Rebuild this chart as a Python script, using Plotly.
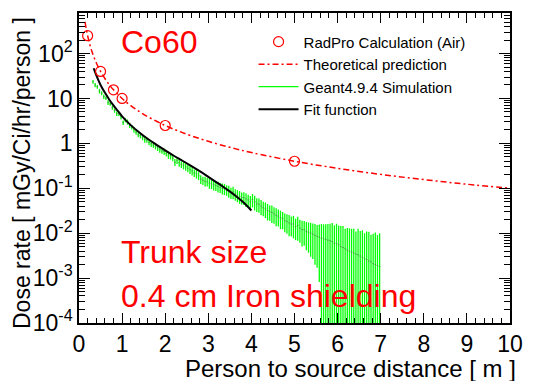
import numpy as np
import plotly.graph_objects as go

# --- RadPro calculation (air) ---
radpro_dist = [0.2, 0.5, 0.8, 1.0, 2.0, 5.0]
radpro_rate = [250, 40, 15.6, 10, 2.5, 0.4]

# --- Theoretical prediction ---
theory_dist = [0.14, 0.17, 0.2, 0.25, 0.3, 0.35, 0.4, 0.5, 0.6, 0.7, 0.8, 1.0,
               1.2, 1.5, 2.0, 2.5, 3.0, 3.5, 4.0, 5.0, 6.0, 7.0, 8.0, 9.0, 10.0]
theory_rate = [510, 346, 250, 160, 111, 82, 62.5, 40, 27.8, 20.4, 15.6, 10,
               6.94, 4.44, 2.5, 1.6, 1.11, 0.816, 0.625, 0.4, 0.278, 0.204,
               0.156, 0.123, 0.1]

# --- Fit function ---
fit_dist = [0.34, 0.4, 0.5, 0.6, 0.7, 0.8, 0.9, 1.0, 1.2, 1.4, 1.6, 1.8, 2.0,
            2.2, 2.4, 2.6, 2.8, 3.0, 3.2, 3.4, 3.6, 3.8, 4.0]
fit_rate = [47, 33, 20, 13.5, 9.5, 7.0, 5.3, 4.0, 2.55, 1.75, 1.25, 0.93, 0.7,
            0.53, 0.41, 0.315, 0.24, 0.18, 0.134, 0.099, 0.072, 0.05, 0.032]

# --- Geant4.9.4 simulation histogram (0.05 m bins, 0.3 m to 7.0 m) ---
bin_edges = np.linspace(0.3, 7.0, 135)
sim_rate = [
    23.5, 20.0, 18.2, 14.6, 13.1, 11.0, 10.2, 8.1, 7.6, 6.3,
    5.4, 4.6, 4.5, 3.9, 2.9, 3.3, 3.0, 2.5, 2.3, 2.0,
    1.78, 1.55, 1.5, 1.35, 1.22, 1.18, 1.05, 0.98, 0.92, 0.86,
    0.80, 0.74, 0.68, 0.66, 0.60, 0.55, 0.52, 0.47, 0.38, 0.42,
    0.37, 0.34, 0.33, 0.30, 0.28, 0.26, 0.245, 0.22, 0.21, 0.19,
    0.16, 0.15, 0.145, 0.14, 0.13, 0.125, 0.12, 0.115, 0.11, 0.105,
    0.10, 0.098, 0.092, 0.088, 0.08, 0.083, 0.074, 0.07, 0.066, 0.062,
    0.062, 0.058, 0.055, 0.05, 0.056, 0.05, 0.045, 0.044, 0.04, 0.037,
    0.035, 0.032, 0.03, 0.029, 0.027, 0.025, 0.024, 0.022, 0.021, 0.019,
    0.018, 0.017, 0.016, 0.016, 0.014, 0.015, 0.013, 0.012, 0.012, 0.011,
    0.0105, 0.01, 0.0095, 0.009, 0.0085, 0.0082, 0.0078, 0.0075, 0.0072, 0.007,
    0.0068, 0.0065, 0.006, 0.0058, 0.0055, 0.005, 0.0048, 0.0045, 0.0042, 0.004,
    0.0038, 0.0036, 0.0034, 0.0033, 0.0031, 0.0029, 0.0027, 0.0026, 0.0024, 0.0023,
    0.0021, 0.002, 0.0019, 0.0018,
]
sim_relerr = [
    0.09, 0.11, 0.10, 0.12, 0.10, 0.11, 0.09, 0.12, 0.10, 0.11,
    0.11, 0.12, 0.10, 0.13, 0.12, 0.11, 0.13, 0.12, 0.12, 0.14,
    0.13, 0.12, 0.14, 0.13, 0.15, 0.13, 0.14, 0.15, 0.13, 0.15,
    0.15, 0.16, 0.14, 0.17, 0.15, 0.18, 0.16, 0.15, 0.18, 0.17,
    0.18, 0.17, 0.20, 0.18, 0.19, 0.20, 0.21, 0.19, 0.22, 0.20,
    0.22, 0.21, 0.24, 0.22, 0.25, 0.23, 0.26, 0.24, 0.27, 0.25,
    0.27, 0.28, 0.26, 0.30, 0.28, 0.31, 0.29, 0.30, 0.32, 0.30,
    0.32, 0.34, 0.31, 0.35, 0.33, 0.36, 0.34, 0.35, 0.37, 0.36,
    0.38, 0.40, 0.37, 0.42, 0.40, 0.43, 0.41, 0.44, 0.42, 0.45,
    0.46, 0.50, 0.47, 0.52, 0.50, 0.55, 0.53, 0.58, 0.56, 0.62,
    0.65, 0.70, 0.72, 0.78, 0.80, 0.90, 1.05, 1.10, 1.20, 1.30,
    1.40, 1.60, 1.50, 1.80, 1.70, 1.90, 2.00, 1.80, 2.10, 2.20,
    2.30, 2.50, 2.20, 2.80, 2.60, 3.00, 2.70, 3.20, 3.50, 3.00,
    3.60, 4.20, 3.80, 4.50,
]

# x tick and y tick labels
y_tick_vals = [1e-4, 1e-3, 1e-2, 1e-1, 1, 10, 100]
y_tick_text = ["10<sup>-4</sup>", "10<sup>-3</sup>", "10<sup>-2</sup>",
               "10<sup>-1</sup>", "1", "10", "10<sup>2</sup>"]
x_tick_vals = list(range(0, 11))

RED = "#ff0000"
GREEN = "#00ff00"
FONT = "Liberation Sans, Arial, Helvetica, sans-serif"

# build error-bar segments for the histogram
centers = 0.5 * (bin_edges[:-1] + bin_edges[1:])
half = 0.35 * (bin_edges[1:] - bin_edges[:-1])
rate = np.array(sim_rate)
err = rate * np.array(sim_relerr)
low = np.where(rate - err > 0, rate - err, 1e-6)
high = rate + err

vx, vy, hx, hy = [], [], [], []
for c, lo, hi, hw, v in zip(centers, low, high, half, rate):
    vx += [c, c, None]
    vy += [lo, hi, None]
    hx += [c - hw, c + hw, None]
    hy += [v, v, None]

fig = go.Figure()

fig.add_trace(go.Scatter(
    x=vx, y=vy, mode="lines", line=dict(color=GREEN, width=1.3),
    name="Geant4.9.4 Simulation", legendrank=3, connectgaps=False,
))
fig.add_trace(go.Scatter(
    x=hx, y=hy, mode="lines", line=dict(color="#3f9f3f", width=1),
    showlegend=False, connectgaps=False,
))
fig.add_trace(go.Scatter(
    x=fit_dist, y=fit_rate, mode="lines", line=dict(color="black", width=2, shape="spline"),
    name="Fit function", legendrank=4,
))
fig.add_trace(go.Scatter(
    x=theory_dist, y=theory_rate, mode="lines",
    line=dict(color=RED, width=1.5, dash="6px,3px,2px,3px", shape="spline"),
    name="Theoretical prediction", legendrank=2,
))
fig.add_trace(go.Scatter(
    x=radpro_dist, y=radpro_rate, mode="markers",
    marker=dict(symbol="circle-open", size=10, color=RED, line=dict(width=1.2)),
    name="RadPro Calculation (Air)", legendrank=1,
))

# minor tick positions
y_minor = [m * 10.0 ** e for e in range(-4, 3) for m in range(2, 10)]
x_minor = [i / 5 for i in range(0, 51)]

fig.update_layout(
    width=534, height=381,
    margin=dict(l=79, r=13, t=11, b=58),
    paper_bgcolor="white", plot_bgcolor="white",
    font=dict(family=FONT, color="black"),
    showlegend=True,
    legend=dict(
        x=0.405, y=0.96, xanchor="left", yanchor="top",
        bgcolor="rgba(0,0,0,0)", borderwidth=0,
        font=dict(size=15, family=FONT), itemwidth=40,
        traceorder="normal",
    ),
    xaxis=dict(
        range=[0, 10], showgrid=False, zeroline=False,
        tickmode="array", tickvals=x_tick_vals,
        ticks="inside", ticklen=10, tickwidth=1, tickcolor="black",
        showline=True, linecolor="black", linewidth=1.5, mirror="ticks",
        tickfont=dict(size=23, family=FONT),
        minor=dict(tickmode="array", tickvals=x_minor, ticks="inside",
                   ticklen=5, tickwidth=1, tickcolor="black", showgrid=False),
    ),
    yaxis=dict(
        type="log", range=[-4, np.log10(800)], showgrid=False, zeroline=False,
        tickmode="array", tickvals=y_tick_vals, ticktext=y_tick_text,
        ticks="inside", ticklen=11, tickwidth=1, tickcolor="black",
        showline=True, linecolor="black", linewidth=1.5, mirror="ticks",
        tickfont=dict(size=23, family=FONT),
        minor=dict(tickmode="array", tickvals=y_minor, ticks="inside",
                   ticklen=6, tickwidth=1, tickcolor="black", showgrid=False),
    ),
)

fig.add_annotation(
    text="Dose rate [ mGy/Ci/hr/person ]", textangle=-90,
    xref="paper", yref="paper", x=0, y=1, xanchor="center", yanchor="top",
    xshift=-57, yshift=-2, showarrow=False,
    font=dict(size=23, family=FONT, color="black"),
)
fig.add_annotation(
    text="Person to source distance [ m ]",
    xref="paper", yref="paper", x=1, y=0, xanchor="right", yanchor="top",
    xshift=8, yshift=-30, showarrow=False,
    font=dict(size=24, family=FONT, color="black"),
)
for txt, yp in [("Co60", 0.905), ("Trunk size", 0.23), ("0.4 cm Iron shielding", 0.088)]:
    fig.add_annotation(
        text=txt, xref="paper", yref="paper", x=0.093, y=yp,
        xanchor="left", yanchor="middle", showarrow=False,
        font=dict(size=32, family=FONT, color=RED),
    )

fig.write_html("out.html")
